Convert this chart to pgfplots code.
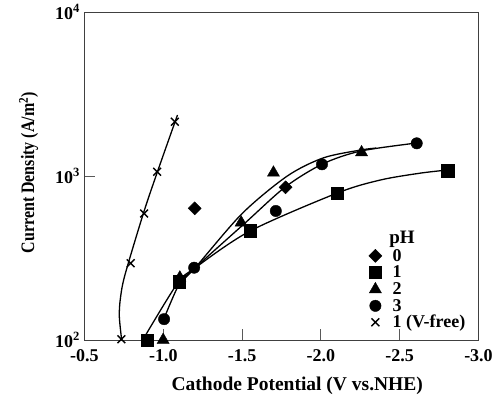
\documentclass[border=0pt]{standalone}
\usepackage{fontspec}
\setmainfont{Liberation Serif}
\newfontfamily\condfont[FakeStretch=0.84]{Liberation Serif}
\usepackage{pgfplots}
\pgfplotsset{compat=1.18}
\begin{document}
\begin{tikzpicture}
\useasboundingbox (-84.5pt,-60pt) rectangle (418.5pt,340pt);
\begin{axis}[
  scale only axis, width=394pt, height=328pt,
  xmin=-3, xmax=-0.5, x dir=reverse,
  ymode=log, ymin=100, ymax=10000,
  xtick={-0.5,-1,-1.5,-2,-2.5,-3},
  xticklabels={-0.5,-1.0,-1.5,-2.0,-2.5,-3.0},
  ytick={100,1000,10000},
  yticklabels={10\textsuperscript{2},10\textsuperscript{3},10\textsuperscript{4}},
  yminorticks=false,
  tick align=inside, xtick pos=lower, ytick pos=left,
  major tick length=11pt,
  tick style={black!65, line width=0.8pt},
  axis line style={black!75, line width=0.9pt},
  ticklabel style={font=\fontsize{18}{19}\selectfont\bfseries},
  xticklabel style={yshift=-6pt},
  yticklabel style={xshift=-1pt},
  xlabel={Cathode Potential (V vs.NHE)},
  ylabel={Current Density (A/m\textsuperscript{2})},
  xlabel style={at={(axis description cs:0.54,-0.14)}, anchor=center,
    font=\fontsize{19.5}{20}\selectfont\bfseries},
  ylabel style={at={(axis description cs:-0.142,0.51)}, anchor=center,
    font=\fontsize{19}{20}\condfont\bfseries},
  legend style={draw=none, fill=none, at={(rel axis cs:0.7195,0.277)}, anchor=north west,
    font=\fontsize{18}{18}\selectfont\bfseries, row sep=3.5pt, inner sep=0pt,
    nodes={inner sep=0pt, text height=12pt, text depth=1pt}},
  legend cell align=left,
  legend image code/.code={\path (-7pt,0pt) (17pt,0pt); \draw[#1] plot coordinates {(0pt,0pt)};},
]
% fitted curves
\addplot[black, line width=1.3pt, smooth, forget plot] coordinates {
(-0.736,100) (-0.721,139) (-0.728,180) (-0.757,250) (-0.874,593) (-0.963,1062) (-1.09,2355)};
\addplot[black, line width=1.3pt, smooth, forget plot] coordinates {
(-0.89,108) (-1.092,223) (-1.201,275) (-1.551,462) (-2.105,788) (-2.379,946) (-2.634,1042) (-2.806,1088)};
\addplot[black, line width=1.3pt, smooth, forget plot] coordinates {
(-1.003,134) (-1.105,223) (-1.201,275) (-1.519,517) (-1.774,857) (-2.010,1183) (-2.252,1419) (-2.608,1589)};
\addplot[black, line width=1.3pt, smooth, forget plot] coordinates {
(-1.105,223) (-1.201,275) (-1.500,590) (-1.787,1000) (-2.016,1290) (-2.252,1440) (-2.35,1480)};
% data
\addplot[only marks, mark=square*, mark size=4.6pt, mark options={rotate=45, fill=black}] coordinates {
(-1.199,635) (-1.776,853)};
\addlegendentry{0}
\addplot[only marks, mark=square*, mark size=6.2pt, mark options={fill=black}] coordinates {
(-0.897,100) (-1.101,227) (-1.551,463) (-2.103,784) (-2.804,1077)};
\addlegendentry{1}
\addplot[only marks, mark=triangle*, mark size=7pt, mark options={fill=black}] coordinates {
(-0.999,100) (-1.105,240) (-1.494,520) (-1.699,1047) (-2.258,1393)};
\addlegendentry{2}
\addplot[only marks, mark=*, mark size=5.7pt, mark options={fill=black}] coordinates {
(-1.005,134) (-1.196,276) (-1.714,612) (-2.007,1178) (-2.608,1582)};
\addlegendentry{3}
\addplot[only marks, mark=x, mark size=5.5pt, mark options={line width=1.4pt}] coordinates {
(-0.734,101) (-0.793,294) (-0.878,591) (-0.961,1062) (-1.073,2143)};
\addlegendentry{1 (V-free)}
\node[font=\fontsize{19}{19}\selectfont\bfseries] at (rel axis cs:0.806,0.308) {pH};
\end{axis}
\end{tikzpicture}
\end{document}
